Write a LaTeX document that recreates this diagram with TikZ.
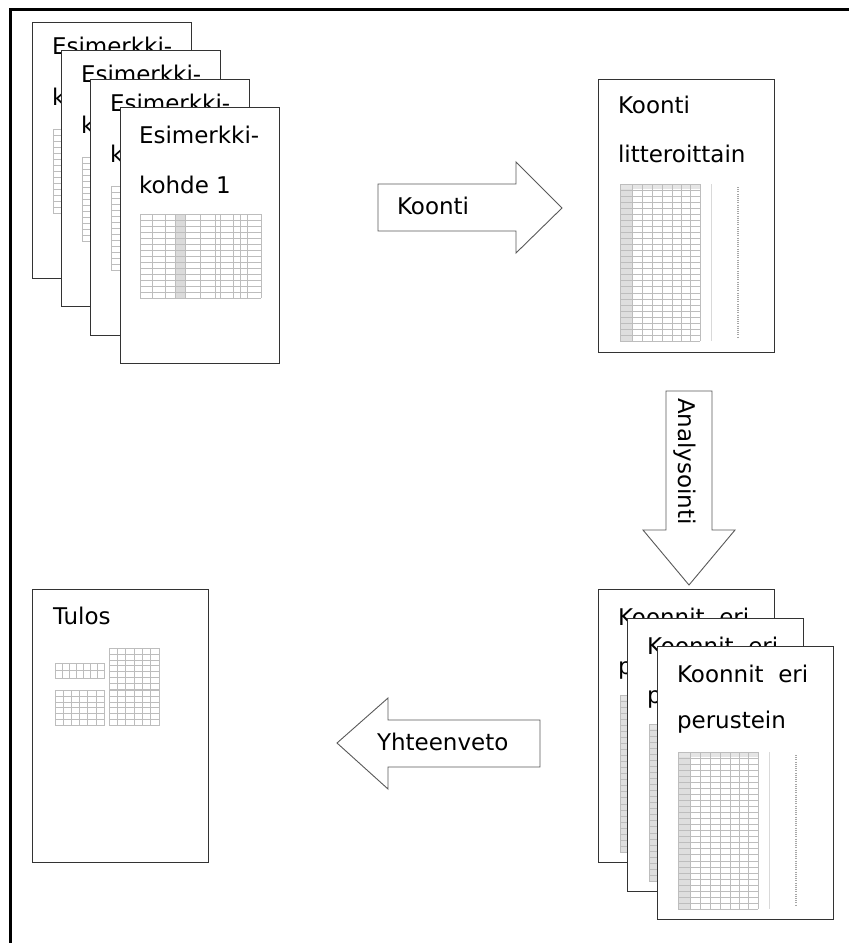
\documentclass[tikz,border=0pt]{standalone}
\usepackage{fontspec}
\setmainfont{DejaVu Sans}
\tikzset{
  pagebox/.style={draw=black!80, line width=1.3pt, fill=white, inner sep=0pt, anchor=north west},
  esipage/.style={pagebox, minimum width=159, minimum height=256},
  bigpage/.style={pagebox, minimum width=176, minimum height=273},
  lbl/.style={anchor=base west, inner sep=0pt, outer sep=0pt, font=\fontsize{23}{23}\selectfont, text=black},
  blockarrow/.style={draw=black!65, line width=0.9pt, fill=white, line join=miter},
  gl/.style={draw=black!26, line width=0.35pt},
  framestyle/.style={line width=3.3pt, draw=black}
}
\newcommand\tabA{%
  \fill[black!13] (0,0) rectangle (12,157);
  \fill[black!10] (0,0) rectangle (80,5);
  \foreach \k in {0,...,26} \draw[gl] (0,{\k*157/26}) -- (80,{\k*157/26});
  \foreach \xx in {0,12,22,32,42,52,61,70,80} \draw[gl] (\xx,0) -- (\xx,157);
  \draw[black!15, line width=0.6pt] (91,0) -- (91,157);
  \draw[black!35, line width=1.8pt, dash pattern=on 1pt off 1.2pt] (118,3) -- (118,154);
}
\newcommand\tabB{%
  \fill[black!14] (35,0) rectangle (45,84);
  \foreach \k in {0,...,14} \draw[gl] (0,{\k*6}) -- (121,{\k*6});
  \foreach \xx in {0,12,25,35,45,60,75,80,93,100,107,121} \draw[gl] (\xx,0) -- (\xx,84);
}
\newcommand\minigrid[6]{%
  \begin{scope}[shift={(#1,#2)}]
    \draw[gl] (0,0) rectangle (#3,#4);
    \foreach \k in {1,...,#5} \draw[gl] (0,{\k*#4/#5}) -- (#3,{\k*#4/#5});
    \foreach \k in {1,...,#6} \draw[gl] ({\k*#3/#6},0) -- ({\k*#3/#6},#4);
  \end{scope}}
\begin{document}
\begin{tikzpicture}[x=1pt, y=-1pt]
\useasboundingbox (0,0) rectangle (849,943);
\fill[white] (0,0) rectangle (849,943);
% outer frame (top and left edges)
\coordinate (fbl) at (10.3,943);
\coordinate (ftl) at (10.3,9.3);
\coordinate (ftr) at (849,9.3);
\draw[framestyle] (fbl) -- (ftl) -- (ftr);

% ---------- Esimerkki stack ----------
\node[esipage] (p1) at (32,22) {};
\node[lbl] (p1a) at (52,54) {Esimerkki-};
\node[lbl] (p1b) at (52,105) {k};
\begin{scope}[shift={(53,129)}]\tabB\end{scope}

\node[esipage] (p2) at (61,50) {};
\node[lbl] (p2a) at (81,82) {Esimerkki-};
\node[lbl] (p2b) at (81,133) {k};
\begin{scope}[shift={(82,157)}]\tabB\end{scope}

\node[esipage] (p3) at (90,79) {};
\node[lbl] (p3a) at (110,111) {Esimerkki-};
\node[lbl] (p3b) at (110,162) {k};
\begin{scope}[shift={(111,186)}]\tabB\end{scope}

\node[esipage] (p4) at (120,107) {};
\node[lbl] (p4a) at (139,143) {Esimerkki-};
\node[lbl] (p4b) at (139,193) {kohde 1};
\begin{scope}[shift={(140,214)}]\tabB\end{scope}

% ---------- Koonti litteroittain ----------
\node[bigpage] (kl) at (598,79) {};
\node[lbl] (kla) at (618,113) {Koonti};
\node[lbl] (klb) at (618,162) {litteroittain};
\begin{scope}[shift={(620,184)}]\tabA\end{scope}

% ---------- Koonnit eri perustein stack ----------
\node[bigpage] (q1) at (598,589) {};
\node[lbl] (q1a) at (618,625) {Koonnit\ \ eri};
\node[lbl] (q1b) at (618,674) {p};
\begin{scope}[shift={(620,695)}]\tabA\end{scope}

\node[bigpage] (q2) at (627,618) {};
\node[lbl] (q2a) at (647,654) {Koonnit\ \ eri};
\node[lbl] (q2b) at (647,703) {p};
\begin{scope}[shift={(649,724)}]\tabA\end{scope}

\node[bigpage] (q3) at (657,646) {};
\node[lbl] (q3a) at (677,682) {Koonnit\ \ eri};
\node[lbl] (q3b) at (677,728) {perustein};
\begin{scope}[shift={(678,752)}]\tabA\end{scope}

% ---------- Tulos ----------
\node[bigpage] (tu) at (32,589) {};
\node[lbl] (tua) at (53,624) {Tulos};
\minigrid{55}{663}{49}{15}{2}{7}
\minigrid{109}{648}{50}{41}{7}{6}
\minigrid{55}{690}{49}{35}{6}{6}
\minigrid{109}{690}{50}{35}{6}{6}

% ---------- Block arrows ----------
\draw[blockarrow] (378,184) -- (516,184) -- (516,162) -- (562,208) -- (516,253) -- (516,231) -- (378,231) -- cycle;
\node[lbl] (koonti) at (397,214) {Koonti};

\draw[blockarrow] (666,391) -- (712,391) -- (712,530) -- (735,530) -- (689,585) -- (643,530) -- (666,530) -- cycle;
\node[lbl, rotate=-90] (analys) at (678,398) {Analysointi};

\draw[blockarrow] (540,720) -- (388,720) -- (388,698) -- (337,743) -- (388,789) -- (388,767) -- (540,767) -- cycle;
\node[lbl] (yht) at (377,750) {Yhteenveto};
\end{tikzpicture}
\end{document}
